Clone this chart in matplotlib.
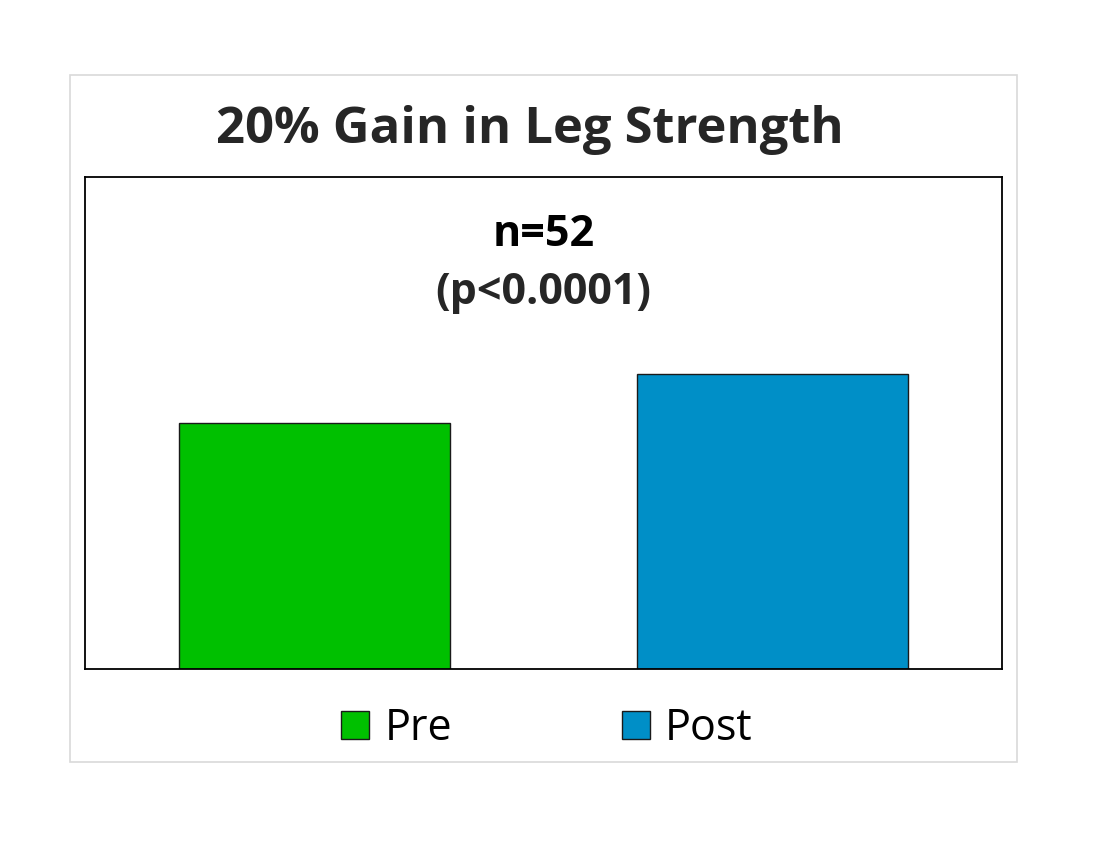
import matplotlib.pyplot as plt
from matplotlib.patches import Rectangle, Patch

# data
categories = ["Pre", "Post"]
values = [100, 120]
colors = ["#00C000", "#008FC7"]

plt.rcParams['font.family'] = ['Open Sans', 'DejaVu Sans']

fig = plt.figure(figsize=(11, 8.5), dpi=100)

# light gray outer frame of the chart area
fig.patches.append(Rectangle((70/1100, 1-762/850), 947/1100, 687/850,
                             transform=fig.transFigure, fill=False,
                             edgecolor="#D9D9D9", linewidth=1.2))

ax = fig.add_axes([85/1100, 1-669/850, 917/1100, 492/850])
ax.bar(range(len(categories)), values, width=0.59, color=colors,
       edgecolor="#1a1a1a", linewidth=1)
ax.set_xlim(-0.5, 1.5)
ax.set_ylim(0, 200)
ax.set_xticks([])
ax.set_yticks([])
for s in ax.spines.values():
    s.set_linewidth(1.3)
    s.set_color("black")

fig.text(530/1100, 1-130/850, "20% Gain in Leg Strength", ha="center", va="center",
         fontsize=36.5, fontweight="bold", color="#262626")
ax.text(0.5, 1-(234-177)/492, "n=52", transform=ax.transAxes, ha="center", va="center",
        fontsize=31, fontweight="bold", color="black")
ax.text(0.5, 1-(292-177)/492, "(p<0.0001)", transform=ax.transAxes, ha="center", va="center",
        fontsize=31, fontweight="bold", color="#262626")

# legend
handles = [Patch(facecolor=c, edgecolor="#1a1a1a", label=l) for c, l in zip(colors, categories)]
fig.legend(handles=handles, loc="center", bbox_to_anchor=(547/1100, 1-729/850), ncol=2,
           frameon=False, fontsize=31, handlelength=0.65, handleheight=0.65,
           handletextpad=0.35, columnspacing=3.95)

fig.savefig("out.png", dpi=100)
